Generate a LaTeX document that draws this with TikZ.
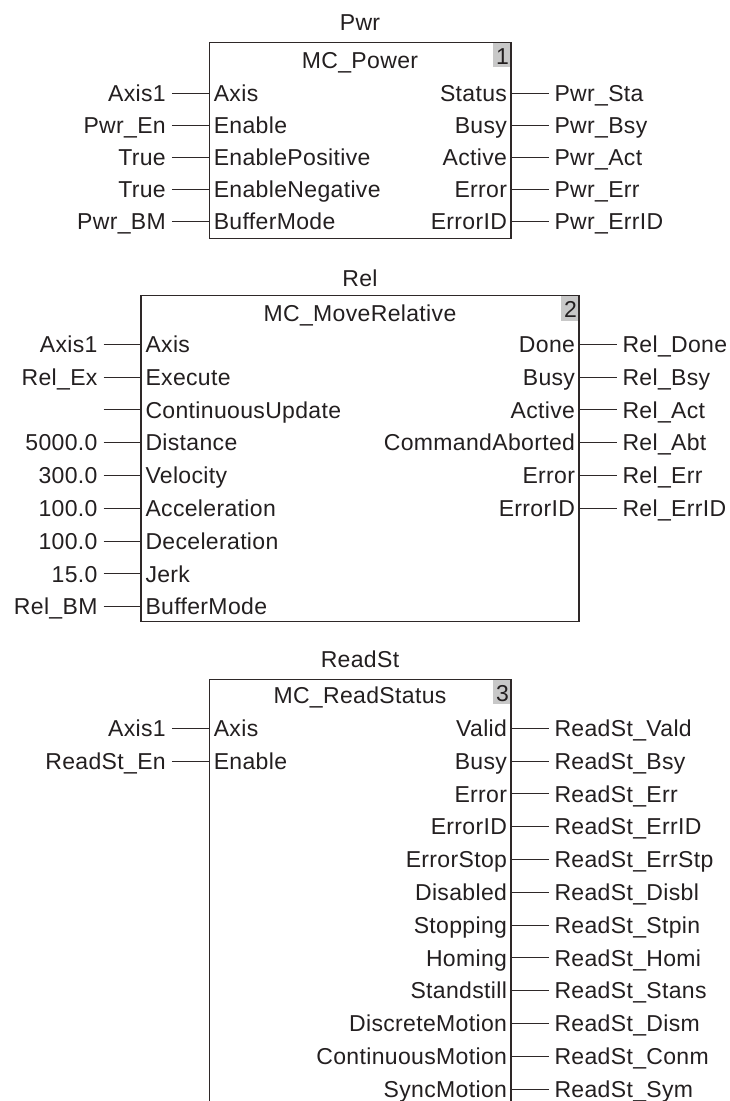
\documentclass[tikz,border=0pt]{standalone}
\usepackage{fontspec}
\setmainfont{Liberation Sans}[LetterSpace=1.5]
\usetikzlibrary{calc}
\definecolor{ink}{HTML}{231F20}
\definecolor{wirec}{HTML}{2E2828}
\definecolor{cellgray}{HTML}{C8C8C8}
\newcommand{\FBleft}[5]{%
  \node[txt, anchor=west] (#1p#2) at ($(#1.west |- 0,#3)+(4.5,0)$) {#4};
  \node[txt, anchor=east] (#1e#2) at ($(#1.west |- 0,#3)+(-43.5,0)$) {#5};
  \draw[wire] ($(#1e#2.east)+(6,0)$) -- (#1e#2.east -| #1.west);
}
\newcommand{\FBright}[5]{%
  \node[txt, anchor=east] (#1q#2) at ($(#1.east |- 0,#3)+(-4,0)$) {#4};
  \node[txt, anchor=west] (#1f#2) at ($(#1.east |- 0,#3)+(43.5,0)$) {#5};
  \draw[wire] (#1f#2.west -| #1.east) -- ($(#1f#2.west)+(-5.5,0)$);
}
\begin{document}
\begin{tikzpicture}[x=1pt,y=-1pt,
  txt/.style={inner sep=0pt, outer sep=0pt, text height=16.5pt, text depth=0pt,
    font=\fontsize{23}{27}\selectfont, text=ink},
  fbox/.style={draw=wirec, line width=1.4pt, inner sep=0pt, outer sep=0pt, anchor=north west},
  boxline/.style={draw=wirec, line width=1.4pt},
  wire/.style={draw=wirec, line width=1.1pt},
  cell/.style={fill=cellgray, inner sep=0pt, outer sep=0pt, anchor=north east,
    minimum width=18.3pt, minimum height=25pt}]
\useasboundingbox (0,0) rectangle (730,1101);
\fill[white] (0,0) rectangle (730,1101);

% ---------- Block 1: MC_Power ----------
\node[cell] (c1) at (511,42.3) {};
\node[fbox, minimum width=301.7pt, minimum height=196pt] (b1) at (209.3,42.3) {};
\node[txt, anchor=east] (d1) at ($(b1.north east)+(-2,14)$) {1};
\node[txt] (n1) at (360,21.9) {Pwr};
\node[txt] (t1) at (360,59.8) {MC\_Power};
\FBleft{b1}{1}{93.4}{Axis}{Axis1}
\FBleft{b1}{2}{125.5}{Enable}{Pwr\_En}
\FBleft{b1}{3}{157.5}{EnablePositive}{True}
\FBleft{b1}{4}{189.5}{EnableNegative}{True}
\FBleft{b1}{5}{221.6}{BufferMode}{Pwr\_BM}
\FBright{b1}{1}{93.4}{Status}{Pwr\_Sta}
\FBright{b1}{2}{125.5}{Busy}{Pwr\_Bsy}
\FBright{b1}{3}{157.5}{Active}{Pwr\_Act}
\FBright{b1}{4}{189.5}{Error}{Pwr\_Err}
\FBright{b1}{5}{221.6}{ErrorID}{Pwr\_ErrID}

% ---------- Block 2: MC_MoveRelative ----------
\node[cell] (c2) at (579,295.7) {};
\node[fbox, minimum width=438pt, minimum height=326pt] (b2) at (141,295.7) {};
\node[txt, anchor=east] (d2) at ($(b2.north east)+(-2,13.5)$) {2};
\node[txt] (n2) at (360,278.3) {Rel};
\node[txt] (t2) at (360,313.3) {MC\_MoveRelative};
\FBleft{b2}{1}{344.3}{Axis}{Axis1}
\FBleft{b2}{2}{377.1}{Execute}{Rel\_Ex}
\FBleft{b2}{3}{409.9}{ContinuousUpdate}{}
\FBleft{b2}{4}{442.7}{Distance}{5000.0}
\FBleft{b2}{5}{475.5}{Velocity}{300.0}
\FBleft{b2}{6}{508.3}{Acceleration}{100.0}
\FBleft{b2}{7}{541.1}{Deceleration}{100.0}
\FBleft{b2}{8}{573.9}{Jerk}{15.0}
\FBleft{b2}{9}{606.7}{BufferMode}{Rel\_BM}
\FBright{b2}{1}{344.3}{Done}{Rel\_Done}
\FBright{b2}{2}{377.1}{Busy}{Rel\_Bsy}
\FBright{b2}{3}{409.9}{Active}{Rel\_Act}
\FBright{b2}{4}{442.7}{CommandAborted}{Rel\_Abt}
\FBright{b2}{5}{475.5}{Error}{Rel\_Err}
\FBright{b2}{6}{508.3}{ErrorID}{Rel\_ErrID}

% ---------- Block 3: MC_ReadStatus (continues below the page) ----------
\node[cell] (c3) at (511,679.3) {};
\node[fbox, draw=none, minimum width=301.7pt, minimum height=421.7pt] (b3) at (209.3,679.3) {};
\draw[boxline] (b3.south west) -- (b3.north west) -- (b3.north east) -- (b3.south east);
\node[txt, anchor=east] (d3) at ($(b3.north east)+(-2,13.5)$) {3};
\node[txt] (n3) at (360,658.8) {ReadSt};
\node[txt] (t3) at (360,695.5) {MC\_ReadStatus};
\FBleft{b3}{1}{728.3}{Axis}{Axis1}
\FBleft{b3}{2}{761.1}{Enable}{ReadSt\_En}
\FBright{b3}{1}{728.3}{Valid}{ReadSt\_Vald}
\FBright{b3}{2}{761.1}{Busy}{ReadSt\_Bsy}
\FBright{b3}{3}{793.9}{Error}{ReadSt\_Err}
\FBright{b3}{4}{826.7}{ErrorID}{ReadSt\_ErrID}
\FBright{b3}{5}{859.5}{ErrorStop}{ReadSt\_ErrStp}
\FBright{b3}{6}{892.3}{Disabled}{ReadSt\_Disbl}
\FBright{b3}{7}{925.1}{Stopping}{ReadSt\_Stpin}
\FBright{b3}{8}{957.9}{Homing}{ReadSt\_Homi}
\FBright{b3}{9}{990.7}{Standstill}{ReadSt\_Stans}
\FBright{b3}{10}{1023.5}{DiscreteMotion}{ReadSt\_Dism}
\FBright{b3}{11}{1056.3}{ContinuousMotion}{ReadSt\_Conm}
\FBright{b3}{12}{1089.1}{SyncMotion}{ReadSt\_Sym}
\end{tikzpicture}
\end{document}
